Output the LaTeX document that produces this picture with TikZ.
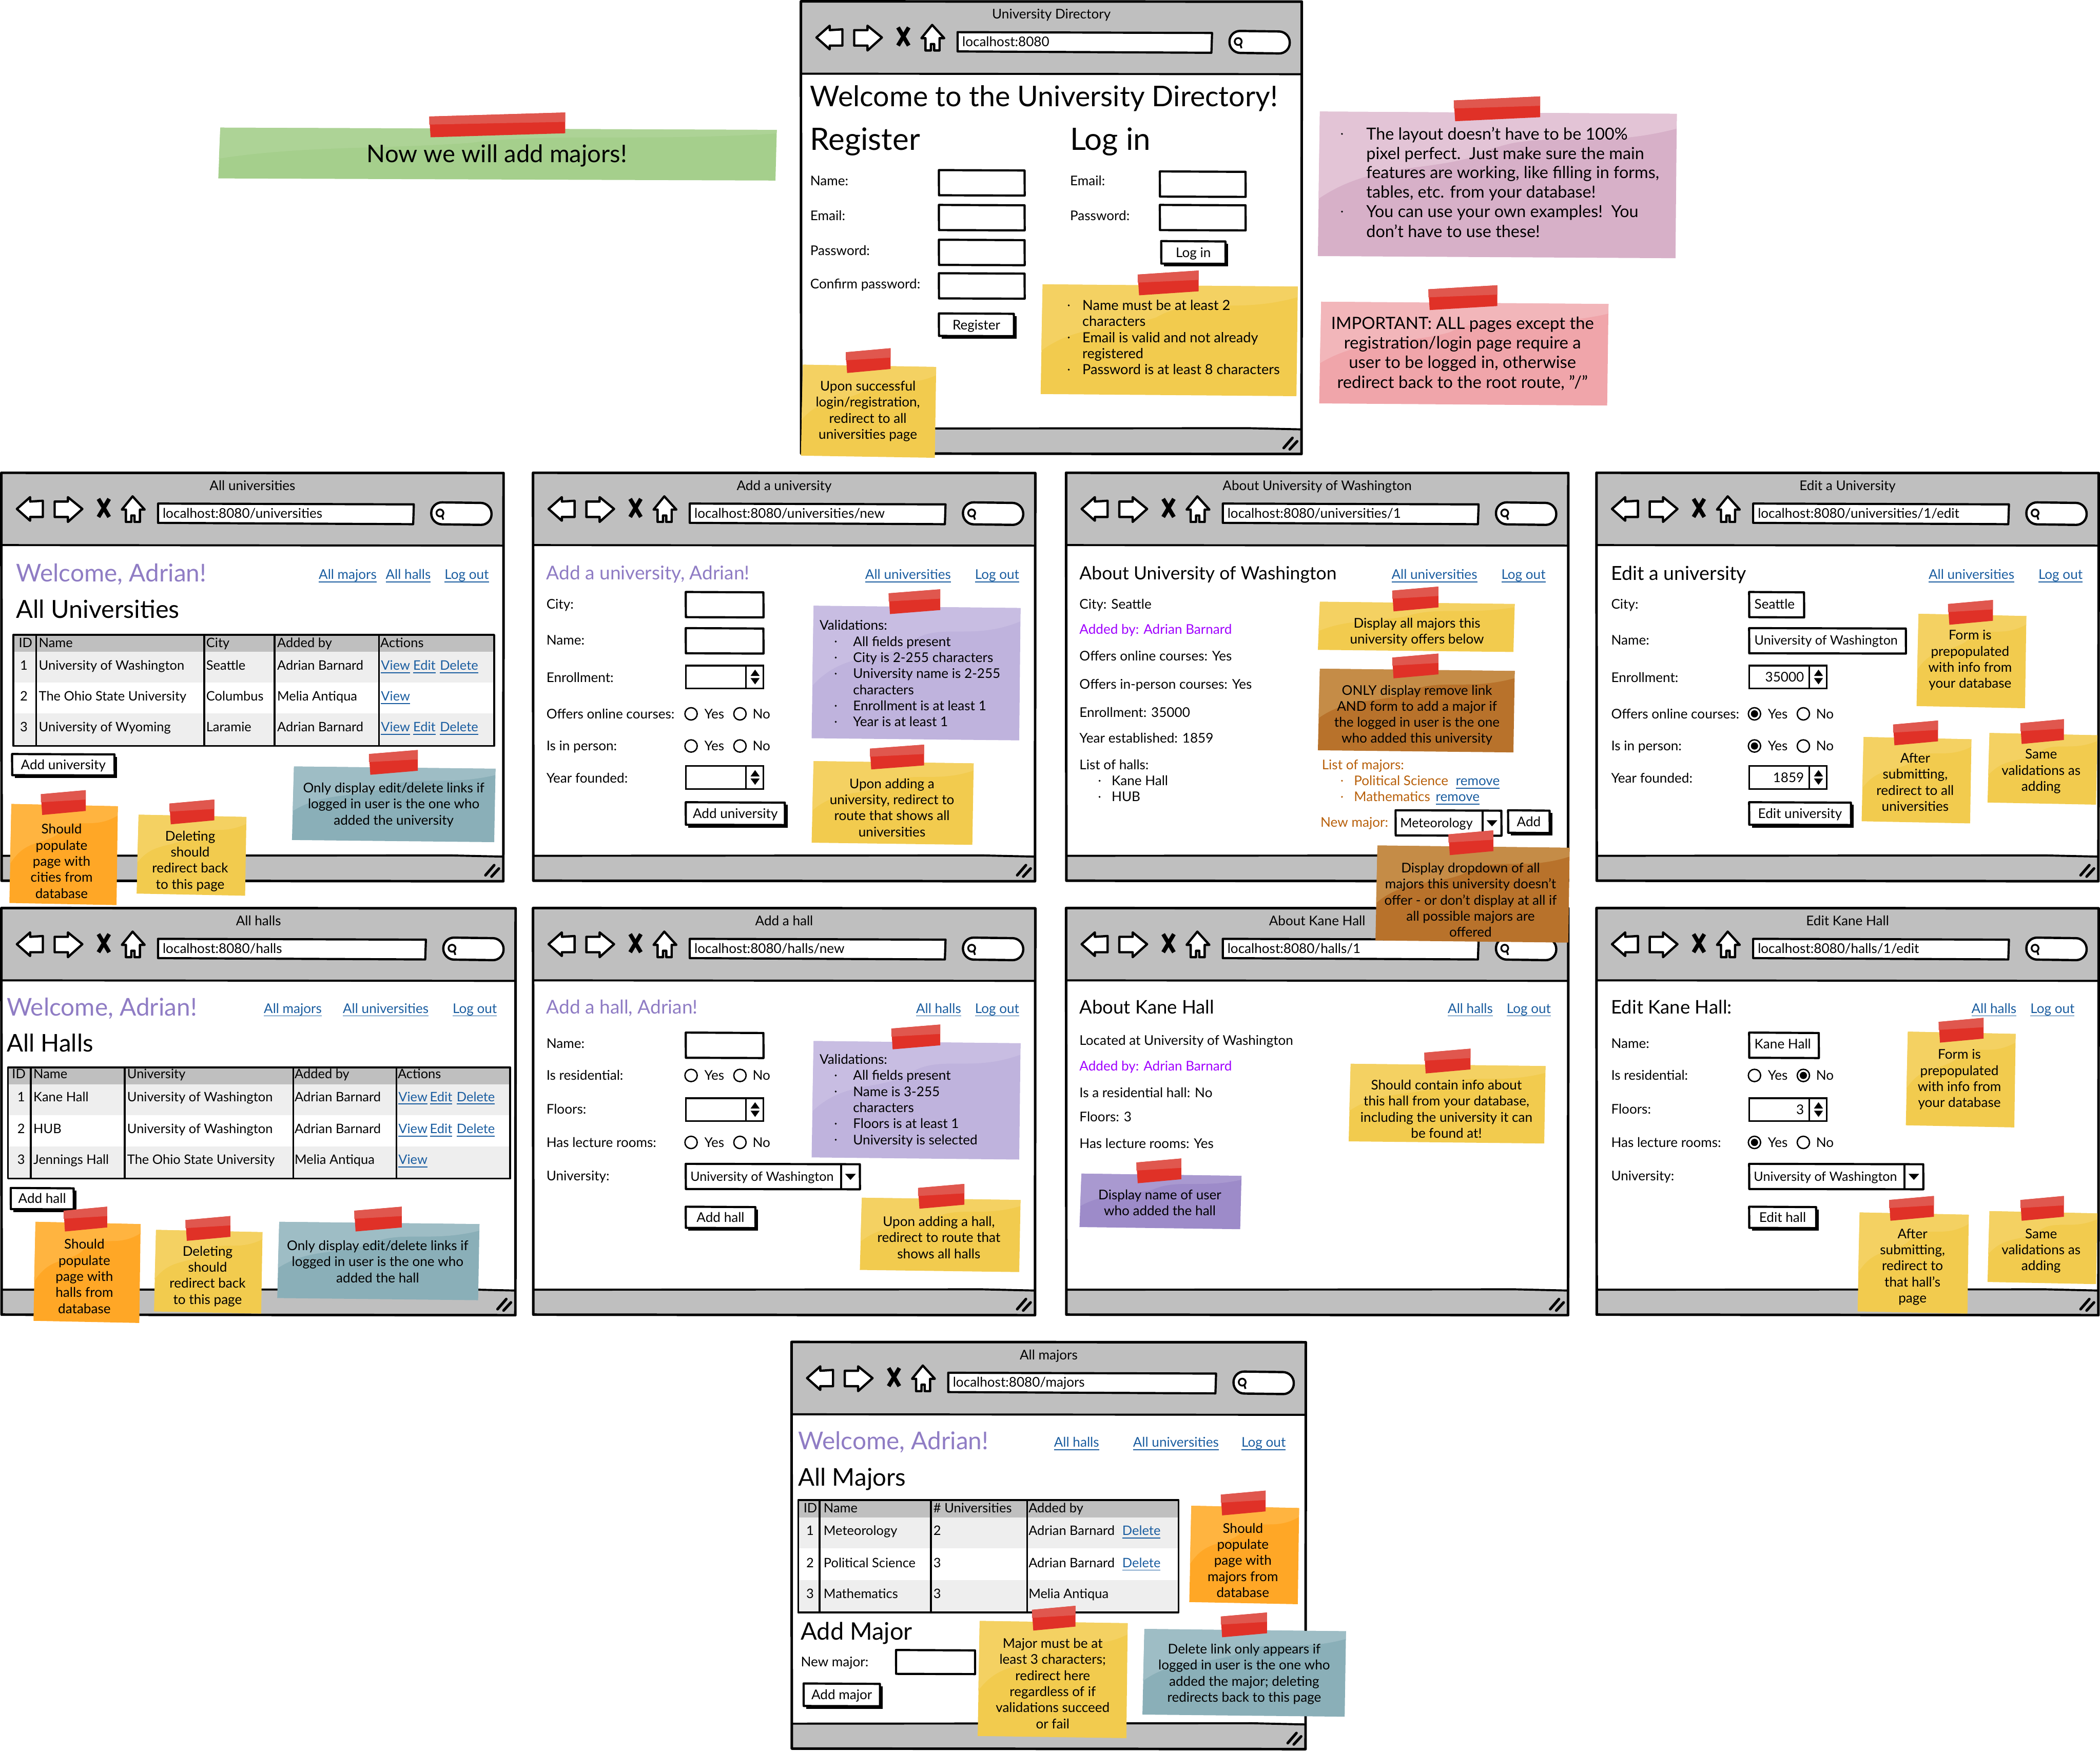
\documentclass[tikz,border=0pt]{standalone}
\usepackage{fontspec}
\setmainfont{Lato}
\definecolor{barg}{HTML}{BFBFBF}
\definecolor{rowg}{HTML}{EEEEEE}
\definecolor{lnkc}{HTML}{1A5DA0}
\definecolor{welc}{HTML}{8F7CC4}
\definecolor{addp}{HTML}{A000FF}
\definecolor{mjr}{HTML}{B8600B}
\definecolor{tapeD}{HTML}{E03127}
\definecolor{tapeL}{HTML}{E0574E}
\definecolor{yel}{HTML}{F2CB4E}\definecolor{yelL}{HTML}{F4D162}
\definecolor{org}{HTML}{FFA726}\definecolor{orgL}{HTML}{FFB440}
\definecolor{blu}{HTML}{8AAFB8}\definecolor{bluL}{HTML}{9EBDC5}
\definecolor{pur}{HTML}{BFB3DD}\definecolor{purL}{HTML}{C8BDE2}
\definecolor{dpu}{HTML}{9D8BC9}\definecolor{dpuL}{HTML}{A999D0}
\definecolor{brn}{HTML}{B8722B}\definecolor{brnL}{HTML}{C58C47}
\definecolor{pnk}{HTML}{D7B0C8}\definecolor{pnkL}{HTML}{E3C4D6}
\definecolor{sal}{HTML}{F0A5AA}\definecolor{salL}{HTML}{F2B6BA}
\definecolor{grn}{HTML}{A5CF8C}\definecolor{grnL}{HTML}{ADD396}
\newcommand{\sz}[1]{\fontsize{#1}{#1}\selectfont}
\newcommand{\st}{\rule[-0.2em]{0pt}{1.1em}}
\newcounter{nd}
\newcommand{\lbl}[4][]{\stepcounter{nd}\node[anchor=west,#1] (t\arabic{nd}) at (#2,#3) {\st #4};}
\newcommand{\clbl}[4][]{\stepcounter{nd}\node[anchor=center,#1] (t\arabic{nd}) at (#2,#3) {\st #4};}
\newcommand{\rlbl}[4][]{\stepcounter{nd}\node[anchor=east,#1] (t\arabic{nd}) at (#2,#3) {\st #4};}
\newcommand{\lnk}[3]{\stepcounter{nd}\node[anchor=west,text=lnkc] (t\arabic{nd}) at (#1,#2) {\st #3};
  \draw[lnkc,line width=.7] (t\arabic{nd}.south west)--(t\arabic{nd}.south east);}
\newcommand{\bul}[3][black]{\fill[#1] (#2,#3) circle (.75);}
\newcommand{\stxt}[4][12]{\stepcounter{nd}\node[yshift=-1pt,align=center,font=\fontsize{\sfs}{#1}\selectfont] (t\arabic{nd}) at (#2,#3) {#4};}
\newcommand{\sfs}{10}
% window: x0 y0 x1 y1 title url
\newcommand{\win}[6]{%
  \fill[white] (#1,#2) rectangle (#3,#4);
  \fill[barg] (#1,#2) rectangle (#3,{#2+54});
  \fill[barg] (#1,{#4-19}) rectangle (#3,#4);
  \draw[line width=1.5] (#1,{#2+54})--(#3,{#2+54.4});
  \draw[line width=1.5] (#1,{#4-19})--({#3-40},{#4-19.3})--(#3,{#4-18.4});
  \draw[line width=1.9,line join=round] (#1,#2)--(#3,{#2+.2})--({#3-.2},#4)--({#1+.2},{#4-.4})--cycle;
  \clbl{{(#1+#3)/2}}{{#2+9.6}}{#5}
  \begin{scope}[shift={(#1,#2)},line width=1.7,line join=round]
   \draw[fill=white] (11.6,27)--(21.5,18.2)--(21.5,21.5)--(31,20.9)--(31,33)--(21.5,33)--(21.5,35.8)--cycle;
   \draw[fill=white] (39.8,21.5)--(49.7,21.5)--(49.7,18.2)--(60.5,27)--(49.7,36.7)--(49.7,33)--(39.8,33)--cycle;
   \draw[line width=3] (72.5,19.5)--(80.5,33) (80.5,19.5)--(72.5,33);
   \draw[fill=white] (98,17.6)--(107,27.5)--(103.5,27.5)--(103.5,36.7)--(99.5,36.7)--(99.5,31.9)--(97,31.9)--(97,36.7)--(93,36.7)--(93,27.5)--(90,27.5)--cycle;
  \end{scope}
  \draw[fill=white,line width=1.6,line join=round] ({#1+117},{#2+23})--({#3-67},{#2+23.6})--({#3-67.5},{#2+38.4})--({#1+117},{#2+37.4})--cycle;
  \lbl{{#1+120.5}}{{#2+30.2}}{#6}
  \draw[fill=white,line width=1.7,rounded corners=8] ({#3-54},{#2+22})--({#3-9},{#2+22.6})--({#3-9},{#2+39})--({#3-54},{#2+38.4})--cycle;
  \draw[line width=1.3] ({#3-47.5},{#2+30}) circle (2.6);
  \draw[line width=1.3] ({#3-46},{#2+32})--({#3-45},{#2+35});
  \draw[line width=2,line cap=round] ({#3-13.5},{#4-4.5})--({#3-7},{#4-12}) ({#3-9},{#4-3.5})--({#3-3.5},{#4-9.5});
}
\newcommand{\inp}[4]{\draw[fill=white,line width=1.6,line join=round] (#1,#2)--(#3,{#2+.3})--({#3+.1},#4)--({#1+.1},{#4-.2})--cycle;}
\newcommand{\btn}[5]{\fill ({#1+2},{#2+2}) rectangle ({#3+2},{#4+2});\inp{#1}{#2}{#3}{#4}\clbl{{(#1+#3)/2}}{{(#2+#4)/2}}{#5}}
\newcommand{\numi}[4]{\draw[fill=white,line width=1.2] (#1,#2) rectangle (#3,#4);
  \draw[line width=1.2] ({#3-13},#2)--({#3-13},#4);
  \fill ({#3-6.2},{#2+3})--({#3-2.8},{(#2+#4)/2-.8})--({#3-9.6},{(#2+#4)/2-.8})--cycle;
  \fill ({#3-6.2},{#4-3})--({#3-2.8},{(#2+#4)/2+.8})--({#3-9.6},{(#2+#4)/2+.8})--cycle;}
\newcommand{\sel}[5]{\inp{#1}{#2}{#3}{#4}
  \draw[line width=1.4] ({#3-14},#2)--({#3-14},#4);
  \fill ({#3-11},{(#2+#4)/2-2})--({#3-3},{(#2+#4)/2-2})--({#3-7},{(#2+#4)/2+2.5})--cycle;
  \lbl[font=\sz{9.6}]{{#1+3.5}}{{(#2+#4)/2}}{#5}}
\newcommand{\rad}[3]{\draw[fill=white,line width=1] (#1,#2) circle (4.6);\ifnum#3=1 \fill (#1,#2) circle (2.7);\fi}
\newcommand{\yesno}[4]{\rad{#1}{#2}{#3}\lbl{{#1+10}}{#2}{Yes}\rad{{#1+36.5}}{#2}{#4}\lbl{{#1+46}}{#2}{No}}
% table x0 x1 y0 yh y1 y2 y3 ; verticals
\newcommand{\tbl}[8]{%
  \fill[barg] (#1,#3) rectangle (#2,#4);
  \fill[rowg] (#1,#4) rectangle (#2,#5);
  \fill[rowg] (#1,#6) rectangle (#2,#7);
  \foreach \vx in {#8} {\draw[line width=1.4] (\vx,#3)--(\vx,#7);}
  \draw[line width=1.4,line join=round] (#1,#3) rectangle (#2,#7);}
% sticky x0 y0 x1 y1 colour tx0 tx1 ty0
\newcommand{\sticky}[8]{%
  \fill[#5] ({#1+1.5},{#2+.3})--(#3,{#2+2})--({#3-1},{#4+.8})--(#1,{#4-.8})--cycle;
  \fill[#5L] ({#1+1.5},{#2+.3})--(#3,{#2+2})--({#3-.3},{#2+.12*(#4-#2)})
    .. controls ({#1+.75*(#3-#1)},{#2+.28*(#4-#2)}) and ({#1+.6*(#3-#1)},{#2+.1*(#4-#2)}) .. ({#1+.45*(#3-#1)},{#2+.3*(#4-#2)})
    .. controls ({#1+.3*(#3-#1)},{#2+.42*(#4-#2)}) and ({#1+.15*(#3-#1)},{#2+.35*(#4-#2)}) .. ({#1+.5},{#2+.6*(#4-#2)})--cycle;
  \fill[tapeD] ({#6+.5},{#8+3})--(#7,#8)--(#7,{#8+15.5})--({#6+1.5},{#8+18.5})--cycle;
  \fill[tapeL] ({#6+.5},{#8+3})--(#7,#8)--(#7,{#8+7})--({#6+.5},{#8+9})--cycle;}
\tikzset{tblt/.style={every node/.style={inner sep=0pt,outer sep=0pt,font=\sz{9.75}}}}
\begin{document}
\begin{tikzpicture}[x=1pt,y=-1pt,every node/.style={inner sep=0pt,outer sep=0pt,font=\sz{10}}]
\useasboundingbox (0,0) rectangle (1568,1307.4);
\fill[white] (0,0) rectangle (1568,1307.4);
%%% windows
\win{598}{1}{972}{339}{University Directory}{localhost:8080}
\win{1}{353}{376}{658}{All universities}{localhost:8080/universities}
\win{398}{353}{773}{658}{Add a university}{localhost:8080/universities/new}
\win{796}{353}{1171}{658}{About University of Washington}{localhost:8080/universities/1}
\win{1192}{353}{1567}{658}{Edit a University}{localhost:8080/universities/1/edit}
\win{1}{678}{385}{982}{All halls}{localhost:8080/halls}
\win{398}{678}{773}{982}{Add a hall}{localhost:8080/halls/new}
\win{796}{678}{1171}{982}{About Kane Hall}{localhost:8080/halls/1}
\win{1192}{678}{1567}{982}{Edit Kane Hall}{localhost:8080/halls/1/edit}
\win{591}{1002}{975}{1306}{All majors}{localhost:8080/majors}
%%% top window
\lbl[font=\sz{21.3}]{605}{72}{Welcome to the University Directory!}
\lbl[font=\sz{23}]{605}{104}{Register}
\lbl[font=\sz{23}]{799}{104}{Log in}
\lbl{605}{135}{Name:}\lbl{605}{161}{Email:}\lbl{605}{187}{Password:}\lbl{605}{212}{Confirm password:}
\inp{701}{127}{765}{146}\inp{701}{153}{765}{172}\inp{701}{179}{765}{198}\inp{701}{204}{765}{223}
\btn{701}{234}{757}{251}{Register}
\lbl{799}{135}{Email:}\lbl{799}{161}{Password:}
\inp{866}{128}{930}{147}\inp{866}{153}{930}{172}
\btn{867}{180}{915}{197}{Log in}
%%% row 1 win 1
\lbl[font=\sz{18.3},text=welc]{12}{428}{Welcome, Adrian!}
\lnk{238}{429}{All majors}\lnk{288}{429}{All halls}\lnk{332}{429}{Log out}
\lbl[font=\sz{18.6}]{12}{455}{All Universities}
\tbl{10}{369}{474}{486.5}{509.5}{532.5}{557}{27,152.5,205,283}
\begin{scope}[tblt]
\lbl{14}{480}{ID}\lbl{29}{480}{Name}\lbl{154}{480}{City}\lbl{207}{480}{Added by}\lbl{284}{480}{Actions}
\lbl{15}{497}{1}\lbl{29}{497}{University of Washington}\lbl{154}{497}{Seattle}\lbl{207}{497}{Adrian Barnard}\lnk{284.5}{497}{View}\lnk{308.5}{497}{Edit}\lnk{328.5}{497}{Delete}
\lbl{15}{520}{2}\lbl{29}{520}{The Ohio State University}\lbl{154}{520}{Columbus}\lbl{207}{520}{Melia Antiqua}\lnk{284.5}{520}{View}
\lbl{15}{543}{3}\lbl{29}{543}{University of Wyoming}\lbl{154}{543}{Laramie}\lbl{207}{543}{Adrian Barnard}\lnk{284.5}{543}{View}\lnk{308.5}{543}{Edit}\lnk{328.5}{543}{Delete}
\end{scope}
\btn{9}{563}{85.5}{579}{Add university}
%%% row 1 win 2
\lbl[font=\sz{14.2},text=welc]{408}{428}{Add a university, Adrian!}
\lnk{646}{429}{All universities}\lnk{728}{429}{Log out}
\lbl{408}{451}{City:}\lbl{408}{478}{Name:}\lbl{408}{506}{Enrollment:}\lbl{408}{533}{Offers online courses:}\lbl{408}{557}{Is in person:}\lbl{408}{581}{Year founded:}
\inp{512}{442}{570}{461}\inp{512}{469}{570}{488}\numi{512}{497}{570}{514}
\yesno{516}{533}{0}{0}\yesno{516}{557}{0}{0}
\numi{512}{572}{570}{589}
\btn{512}{599}{586}{616}{Add university}
%%% row 1 win 3
\lbl[font=\sz{13.6}]{806}{428}{About University of Washington}
\lnk{1039}{429}{All universities}\lnk{1121}{429}{Log out}
\lbl{806}{451}{City: Seattle}\lbl[text=addp]{806}{470}{Added by: Adrian Barnard}\lbl{806}{490}{Offers online courses: Yes}\lbl{806}{511}{Offers in-person courses: Yes}\lbl{806}{532}{Enrollment: 35000}\lbl{806}{551}{Year established: 1859}\lbl{806}{571}{List of halls:}
\bul{821}{583}\lbl{830}{583}{Kane Hall}\bul{821}{595}\lbl{830}{595}{HUB}
\lbl[text=mjr]{987}{571}{List of majors:}
\bul[mjr]{1002}{583}\lbl[text=mjr]{1011}{583}{Political Science}\lnk{1087}{583}{remove}
\bul[mjr]{1002}{595}\lbl[text=mjr]{1011}{595}{Mathematics}\lnk{1072}{595}{remove}
\lbl[text=mjr]{986}{614}{New major:}
\sel{1042}{605}{1121}{624}{Meteorology}
\btn{1126}{605}{1157}{622}{Add}
%%% row 1 win 4
\lbl[font=\sz{14.4}]{1203}{428}{Edit a university}
\lnk{1440}{429}{All universities}\lnk{1522}{429}{Log out}
\lbl{1203}{451}{City:}\lbl{1203}{478}{Name:}\lbl{1203}{506}{Enrollment:}\lbl{1203}{533}{Offers online courses:}\lbl{1203}{557}{Is in person:}\lbl{1203}{581}{Year founded:}
\inp{1306}{442}{1347}{461}\lbl{1310}{451}{Seattle}
\inp{1306}{469}{1423}{488}\lbl[font=\sz{9.6}]{1310}{478}{University of Washington}
\numi{1306}{497}{1364}{514}\rlbl{1347}{505.5}{35000}
\yesno{1310}{533}{1}{0}\yesno{1310}{557}{1}{0}
\numi{1306}{572}{1364}{589}\rlbl{1347}{580.5}{1859}
\btn{1306}{599}{1382}{616}{Edit university}
%%% row 2 win 1
\lbl[font=\sz{18.3},text=welc]{5}{752}{Welcome, Adrian!}
\lnk{197}{753}{All majors}\lnk{256}{753}{All universities}\lnk{338}{753}{Log out}
\lbl[font=\sz{18.2}]{5}{779}{All Halls}
\tbl{6}{381}{797}{809.5}{832.5}{856}{880}{23,93,219,296}
\begin{scope}[tblt]
\lbl{9}{802}{ID}\lbl{25}{802}{Name}\lbl{95}{802}{University}\lbl{220}{802}{Added by}\lbl{297}{802}{Actions}
\lbl{13}{819}{1}\lbl{25}{819}{Kane Hall}\lbl{95}{819}{University of Washington}\lbl{220}{819}{Adrian Barnard}\lnk{297.5}{819}{View}\lnk{321}{819}{Edit}\lnk{341}{819}{Delete}
\lbl{13}{843}{2}\lbl{25}{843}{HUB}\lbl{95}{843}{University of Washington}\lbl{220}{843}{Adrian Barnard}\lnk{297.5}{843}{View}\lnk{321}{843}{Edit}\lnk{341}{843}{Delete}
\lbl{13}{866}{3}\lbl{25}{866}{Jennings Hall}\lbl{95}{866}{The Ohio State University}\lbl{220}{866}{Melia Antiqua}\lnk{297.5}{866}{View}
\end{scope}
\btn{8}{887}{55}{903}{Add hall}
%%% row 2 win 2
\lbl[font=\sz{14.2},text=welc]{408}{752}{Add a hall, Adrian!}
\lnk{684}{753}{All halls}\lnk{728}{753}{Log out}
\lbl{408}{779}{Name:}\lbl{408}{803}{Is residential:}\lbl{408}{828}{Floors:}\lbl{408}{853}{Has lecture rooms:}\lbl{408}{878}{University:}
\inp{512}{771}{570}{790}\numi{512}{820}{570}{837}
\yesno{516}{803}{0}{0}\yesno{516}{853}{0}{0}
\sel{512}{869}{642}{888}{University of Washington}
\btn{512}{901}{564}{917}{Add hall}
%%% row 2 win 3
\lbl[font=\sz{14}]{806}{752}{About Kane Hall}
\lnk{1081}{753}{All halls}\lnk{1125}{753}{Log out}
\lbl{806}{777}{Located at University of Washington}\lbl[text=addp]{806}{796}{Added by: Adrian Barnard}\lbl{806}{816}{Is a residential hall: No}\lbl{806}{834}{Floors: 3}\lbl{806}{854}{Has lecture rooms: Yes}
%%% row 2 win 4
\lbl[font=\sz{14}]{1203}{752}{Edit Kane Hall:}
\lnk{1472}{753}{All halls}\lnk{1516}{753}{Log out}
\lbl{1203}{779}{Name:}\lbl{1203}{803}{Is residential:}\lbl{1203}{828}{Floors:}\lbl{1203}{853}{Has lecture rooms:}\lbl{1203}{878}{University:}
\inp{1306}{771}{1358}{790}\lbl{1310}{779.5}{Kane Hall}
\yesno{1310}{803}{0}{1}
\numi{1306}{820}{1364}{837}\rlbl{1347}{828.5}{3}
\yesno{1310}{853}{1}{0}
\sel{1306}{869}{1436}{888}{University of Washington}
\btn{1306}{901}{1356}{917}{Edit hall}
%%% majors
\lbl[font=\sz{18.3},text=welc]{596}{1076}{Welcome, Adrian!}
\lnk{787}{1077}{All halls}\lnk{846}{1077}{All universities}\lnk{927}{1077}{Log out}
\lbl[font=\sz{18.2}]{596}{1103}{All Majors}
\tbl{596}{880}{1120}{1133}{1156}{1180}{1204}{612,695,767}
\begin{scope}[tblt]
\lbl{600}{1126}{ID}\lbl{615}{1126}{Name}\lbl{697}{1126}{\# Universities}\lbl{768}{1126}{Added by}
\lbl{602}{1143}{1}\lbl{615}{1143}{Meteorology}\lbl{697}{1143}{2}\lbl{768}{1143}{Adrian Barnard}\lnk{838}{1143}{Delete}
\lbl{602}{1167}{2}\lbl{615}{1167}{Political Science}\lbl{697}{1167}{3}\lbl{768}{1167}{Adrian Barnard}\lnk{838}{1167}{Delete}
\lbl{602}{1190}{3}\lbl{615}{1190}{Mathematics}\lbl{697}{1190}{3}\lbl{768}{1190}{Melia Antiqua}
\end{scope}
\lbl[font=\sz{18}]{598}{1218}{Add Major}
\lbl{598}{1241}{New major:}\inp{669}{1232}{728}{1250}
\btn{600}{1257}{657}{1274}{Add major}
%%% stickies
\sticky{163}{95}{580}{134}{grn}{320}{422}{84}
\lbl[font=\sz{18.1},anchor=center]{371}{115}{Now we will add majors!}
\sticky{984}{83}{1252}{192}{pnk}{1085}{1150}{72}
\begin{scope}[every node/.style={inner sep=0pt,font=\sz{12.4}}]
\bul{1002}{100}\lbl{1020}{100}{The layout doesn't have to be 100\%}
\lbl{1020}{114.5}{pixel perfect.\ \ Just make sure the main}
\lbl{1020}{129}{features are working, like filling in forms,}
\lbl{1020}{143.5}{tables, etc. from your database!}
\bul{1002}{158}\lbl{1020}{158}{You can use your own examples!\ \ You}
\lbl{1020}{173}{don't have to use these!}
\end{scope}
\sticky{985}{225}{1201}{302}{sal}{1066}{1118}{213}
\renewcommand{\sfs}{12.6}\stxt[14.6]{1092}{263}{IMPORTANT: ALL pages except the\\registration/login page require a\\user to be logged in, otherwise\\redirect back to the root route, "/"}
\renewcommand{\sfs}{10}
\sticky{777}{212}{969}{295}{yel}{849}{895}{202}
\begin{scope}[every node/.style={inner sep=0pt,font=\sz{10.4}}]
\bul{798}{228}\lbl{808}{228}{Name must be at least 2}\lbl{808}{240}{characters}
\bul{798}{252}\lbl{808}{252}{Email is valid and not already}\lbl{808}{264}{registered}
\bul{798}{276}\lbl{808}{276}{Password is at least 8 characters}
\end{scope}
\sticky{598}{272}{699}{341}{yel}{631}{665}{260}
\stxt{648}{306}{Upon successful\\login/registration,\\redirect to all\\universities page}
\sticky{7}{600}{88}{675}{org}{30}{64}{590}
\stxt{46}{642}{Should\\populate\\page with\\cities from\\database}
\sticky{102}{608}{184}{668}{yel}{126}{160}{597}
\stxt{142}{642}{Deleting\\should\\redirect back\\to this page}
\sticky{218}{572}{370}{628}{blu}{275}{312}{560}
\stxt{294}{600}{Only display edit/delete links if\\logged in user is the one who\\added the university}
\sticky{606}{452}{762}{552}{pur}{663}{702}{440}
\lbl{612}{467}{Validations:}
\bul{624}{479}\lbl{637}{479}{All fields present}
\bul{624}{491}\lbl{637}{491}{City is 2-255 characters}
\bul{624}{503}\lbl{637}{503}{University name is 2-255}\lbl{637}{515}{characters}
\bul{624}{527}\lbl{637}{527}{Enrollment is at least 1}
\bul{624}{539}\lbl{637}{539}{Year is at least 1}
\sticky{606}{568}{727}{630}{yel}{649}{690}{556}
\stxt{666}{602}{Upon adding a\\university, redirect to\\route that shows all\\universities}
\sticky{984}{449}{1131}{486}{yel}{1039}{1074}{438}
\stxt{1058}{471}{Display all majors this\\university offers below}
\sticky{984}{499}{1131}{561}{brn}{1039}{1074}{488}
\stxt{1058}{533}{ONLY display remove link\\AND form to add a major if\\the logged in user is the one\\who added this university}
\sticky{1027}{631}{1172}{703}{brn}{1081}{1115}{620}
\stxt{1098}{671}{Display dropdown of all\\majors this university doesn't\\offer - or don't display at all if\\all possible majors are\\offered}
\sticky{1431}{458}{1513}{528}{yel}{1454}{1488}{448}
\stxt{1471}{492}{Form is\\prepopulated\\with info from\\your database}
\sticky{1390}{550}{1472}{614}{yel}{1413}{1447}{538}
\stxt{1430}{583}{After\\submitting,\\redirect to all\\universities}
\sticky{1484}{547}{1566}{600}{yel}{1508}{1541}{537}
\stxt{1524}{575}{Same\\validations as\\adding}
\sticky{25}{912}{105}{987}{org}{47}{80}{901}
\stxt{63}{952}{Should\\populate\\page with\\halls from\\database}
\sticky{115}{918}{196}{980}{yel}{138}{172}{908}
\stxt{155}{952}{Deleting\\should\\redirect back\\to this page}
\sticky{207}{912}{358}{970}{blu}{264}{300}{901}
\stxt{282}{941}{Only display edit/delete links if\\logged in user is the one who\\added the hall}
\sticky{606}{777}{762}{865}{pur}{665}{702}{765}
\lbl{612}{791}{Validations:}
\bul{624}{803}\lbl{637}{803}{All fields present}
\bul{624}{815}\lbl{637}{815}{Name is 3-255}\lbl{637}{827}{characters}
\bul{624}{839}\lbl{637}{839}{Floors is at least 1}
\bul{624}{851}\lbl{637}{851}{University is selected}
\sticky{642}{894}{762}{949}{yel}{685}{720}{884}
\stxt{701}{923}{Upon adding a hall,\\redirect to route that\\shows all halls}
\sticky{1007}{794}{1154}{853}{yel}{1063}{1098}{783}
\stxt{1080}{827}{Should contain info about\\this hall from your database,\\including the university it can\\be found at!}
\sticky{806}{876}{927}{917}{dpu}{848}{882}{865}
\stxt{866}{897}{Display name of user\\who added the hall}
\sticky{1423}{770}{1505}{841}{yel}{1447}{1481}{760}
\stxt{1463}{805}{Form is\\prepopulated\\with info from\\your database}
\sticky{1387}{905}{1470}{980}{yel}{1410}{1444}{893}
\stxt{1428}{945}{After\\submitting,\\redirect to\\that hall's\\page}
\sticky{1484}{904}{1566}{958}{yel}{1508}{1541}{893}
\stxt{1524}{933}{Same\\validations as\\adding}
\sticky{888}{1124}{970}{1197}{org}{911}{945}{1113}
\stxt{928}{1164}{Should\\populate\\page with\\majors from\\database}
\sticky{730}{1210}{842}{1297}{yel}{770}{803}{1199}
\stxt{786}{1256}{Major must be at\\least 3 characters;\\redirect here\\regardless of if\\validations succeed\\or fail}
\sticky{853}{1216}{1005}{1281}{blu}{911}{946}{1204}
\stxt{929}{1249}{Delete link only appears if\\logged in user is the one who\\added the major; deleting\\redirects back to this page}
\end{tikzpicture}
\end{document}
